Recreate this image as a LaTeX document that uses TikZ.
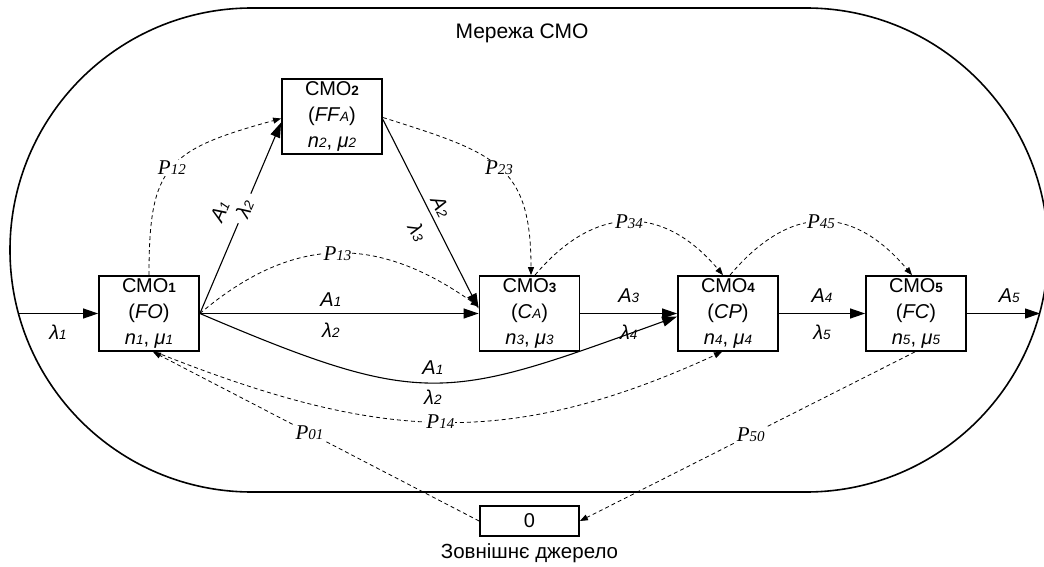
\documentclass[tikz,border=0pt]{standalone}
\usepackage{fontspec}
\setmainfont{Liberation Sans}
\newfontfamily\tnr{Liberation Serif}
\usetikzlibrary{arrows.meta,calc}
\newcommand{\sbi}[1]{{\fontsize{13.5}{13.5}\selectfont\textit{#1}}}
\newcommand{\ix}[2]{\textit{#1}\sbi{#2}}
\newcommand{\smo}[1]{СМО{\fontsize{13.5}{13.5}\selectfont\bfseries #1}}
\newcommand{\pp}[1]{P{\fontsize{15}{15}\selectfont #1}}
\begin{document}
\begin{tikzpicture}[x=1pt,y=-1pt,
  box/.style={draw, line width=1.8pt, fill=white, minimum width=100pt, minimum height=75pt, inner sep=0pt, align=center, font=\fontsize{20}{26}\selectfont},
  flow/.style={line width=1.1pt, -{Triangle[length=15pt,width=10pt]}},
  prob/.style={line width=0.8pt, dash pattern=on 4pt off 3pt, -{Triangle[length=8pt,width=6pt]}},
  lab/.style={inner sep=1pt, font=\fontsize{20}{20}\selectfont},
  plab/.style={fill=white, inner sep=1pt, font=\tnr\itshape\fontsize{21}{21}\selectfont}]
\useasboundingbox (0,0) rectangle (1044,567);
\draw[line width=1.6pt] (252,8) -- (806,8) arc[start angle=-90,end angle=90,radius=242] -- (252,492) arc[start angle=90,end angle=270,radius=242] -- cycle;
\node[font=\fontsize{21}{21}\selectfont] (title) at (522,33) {Мережа СМО};

\node[box] (c1) at (149,313.5) {\smo{1}\\(\textit{FO})\\\ix{n}{1}, \ix{μ}{1}};
\node[box] (c2) at (332,116.5) {\smo{2}\\(\textit{FF}\sbi{A})\\\ix{n}{2}, \ix{μ}{2}};
\node[box] (c3) at (529.5,313.5) {\smo{3}\\(\textit{C}\sbi{A})\\\ix{n}{3}, \ix{μ}{3}};
\node[box] (c4) at (728,313.5) {\smo{4}\\(\textit{CP})\\\ix{n}{4}, \ix{μ}{4}};
\node[box] (c5) at (916,313.5) {\smo{5}\\(\textit{FC})\\\ix{n}{5}, \ix{μ}{5}};
\node[draw, line width=1.8pt, minimum width=99pt, minimum height=30pt, inner sep=0pt, font=\fontsize{20}{20}\selectfont] (z) at (529.5,521) {0};
\node[font=\fontsize{20.5}{20.5}\selectfont] (zl) at (529.5,553) {Зовнішнє джерело};

\coordinate (in1) at (18,313.5);
\coordinate (out5) at (1040,313.5);

\draw[flow] (in1) -- (c1.west) node[lab, midway, below=10pt] {\ix{λ}{1}};
\draw[flow] (c1.east) -- ([yshift=-6pt]c2.west)
  node[lab, sloped, pos=0.49, above=13pt] {\ix{A}{1}}
  node[lab, sloped, pos=0.55, fill=white, minimum width=32pt] {\ix{λ}{2}};
\draw[flow] ([yshift=-3pt]c2.east) -- ([yshift=5pt]c3.west)
  node[lab, sloped, pos=0.49, above=4pt] {\ix{A}{2}}
  node[lab, sloped, pos=0.55, below=11pt] {\ix{λ}{3}};
\draw[flow] (c1.east) -- (c3.west)
  node[lab, pos=0.47, above=5pt] {\ix{A}{1}}
  node[lab, pos=0.47, below=8pt] {\ix{λ}{2}};
\draw[flow] (c1.east) .. controls (426,410) and (446,400) .. ([yshift=-3pt]c4.west)
  node[lab, pos=0.49, above=6pt] {\ix{A}{1}}
  node[lab, pos=0.49, below=6pt] {\ix{λ}{2}};
\draw[flow] (c3.east) -- (c4.west)
  node[lab, midway, above=9pt] {\ix{A}{3}}
  node[lab, midway, below=10pt] {\ix{λ}{4}};
\draw[flow] (c4.east) -- (c5.west)
  node[lab, midway, above=9pt] {\ix{A}{4}}
  node[lab, midway, below=10pt] {\ix{λ}{5}};
\draw[flow] (c5.east) -- (out5)
  node[lab, pos=0.58, above=9pt] {\ix{A}{5}};

\draw[prob] (c1.north) .. controls (149,166) and (166,150) .. ([yshift=-2pt]c2.west)
  node[plab, pos=0.5] {\pp{12}};
\draw[prob] (c1.east) .. controls (295,233) and (379,236) .. ([yshift=7pt]c3.west)
  node[plab, pos=0.5] {\pp{13}};
\draw[prob] ([yshift=-1pt]c2.east) .. controls (495,153) and (531,164) .. ([xshift=1.5pt]c3.north)
  node[plab, pos=0.5] {\pp{23}};
\draw[prob] ([xshift=5.5pt]c3.north) .. controls (595,204) and (663,204) .. ([xshift=-5pt]c4.north)
  node[plab, pos=0.5] {\pp{34}};
\draw[prob] ([xshift=2pt]c4.north) .. controls (790,204) and (852,204) .. ([xshift=-4pt]c5.north)
  node[plab, pos=0.5] {\pp{45}};
\draw[prob] ([xshift=6pt]c1.south) .. controls (376,440) and (506,451) .. ([xshift=-6pt]c4.south)
  node[plab, pos=0.5] {\pp{14}};
\draw[prob] (z.west) -- ([xshift=4pt]c1.south)
  node[plab, pos=0.52] {\pp{01}};
\draw[prob] ([xshift=-1pt]c5.south) -- (z.east)
  node[plab, pos=0.49] {\pp{50}};
\end{tikzpicture}
\end{document}
